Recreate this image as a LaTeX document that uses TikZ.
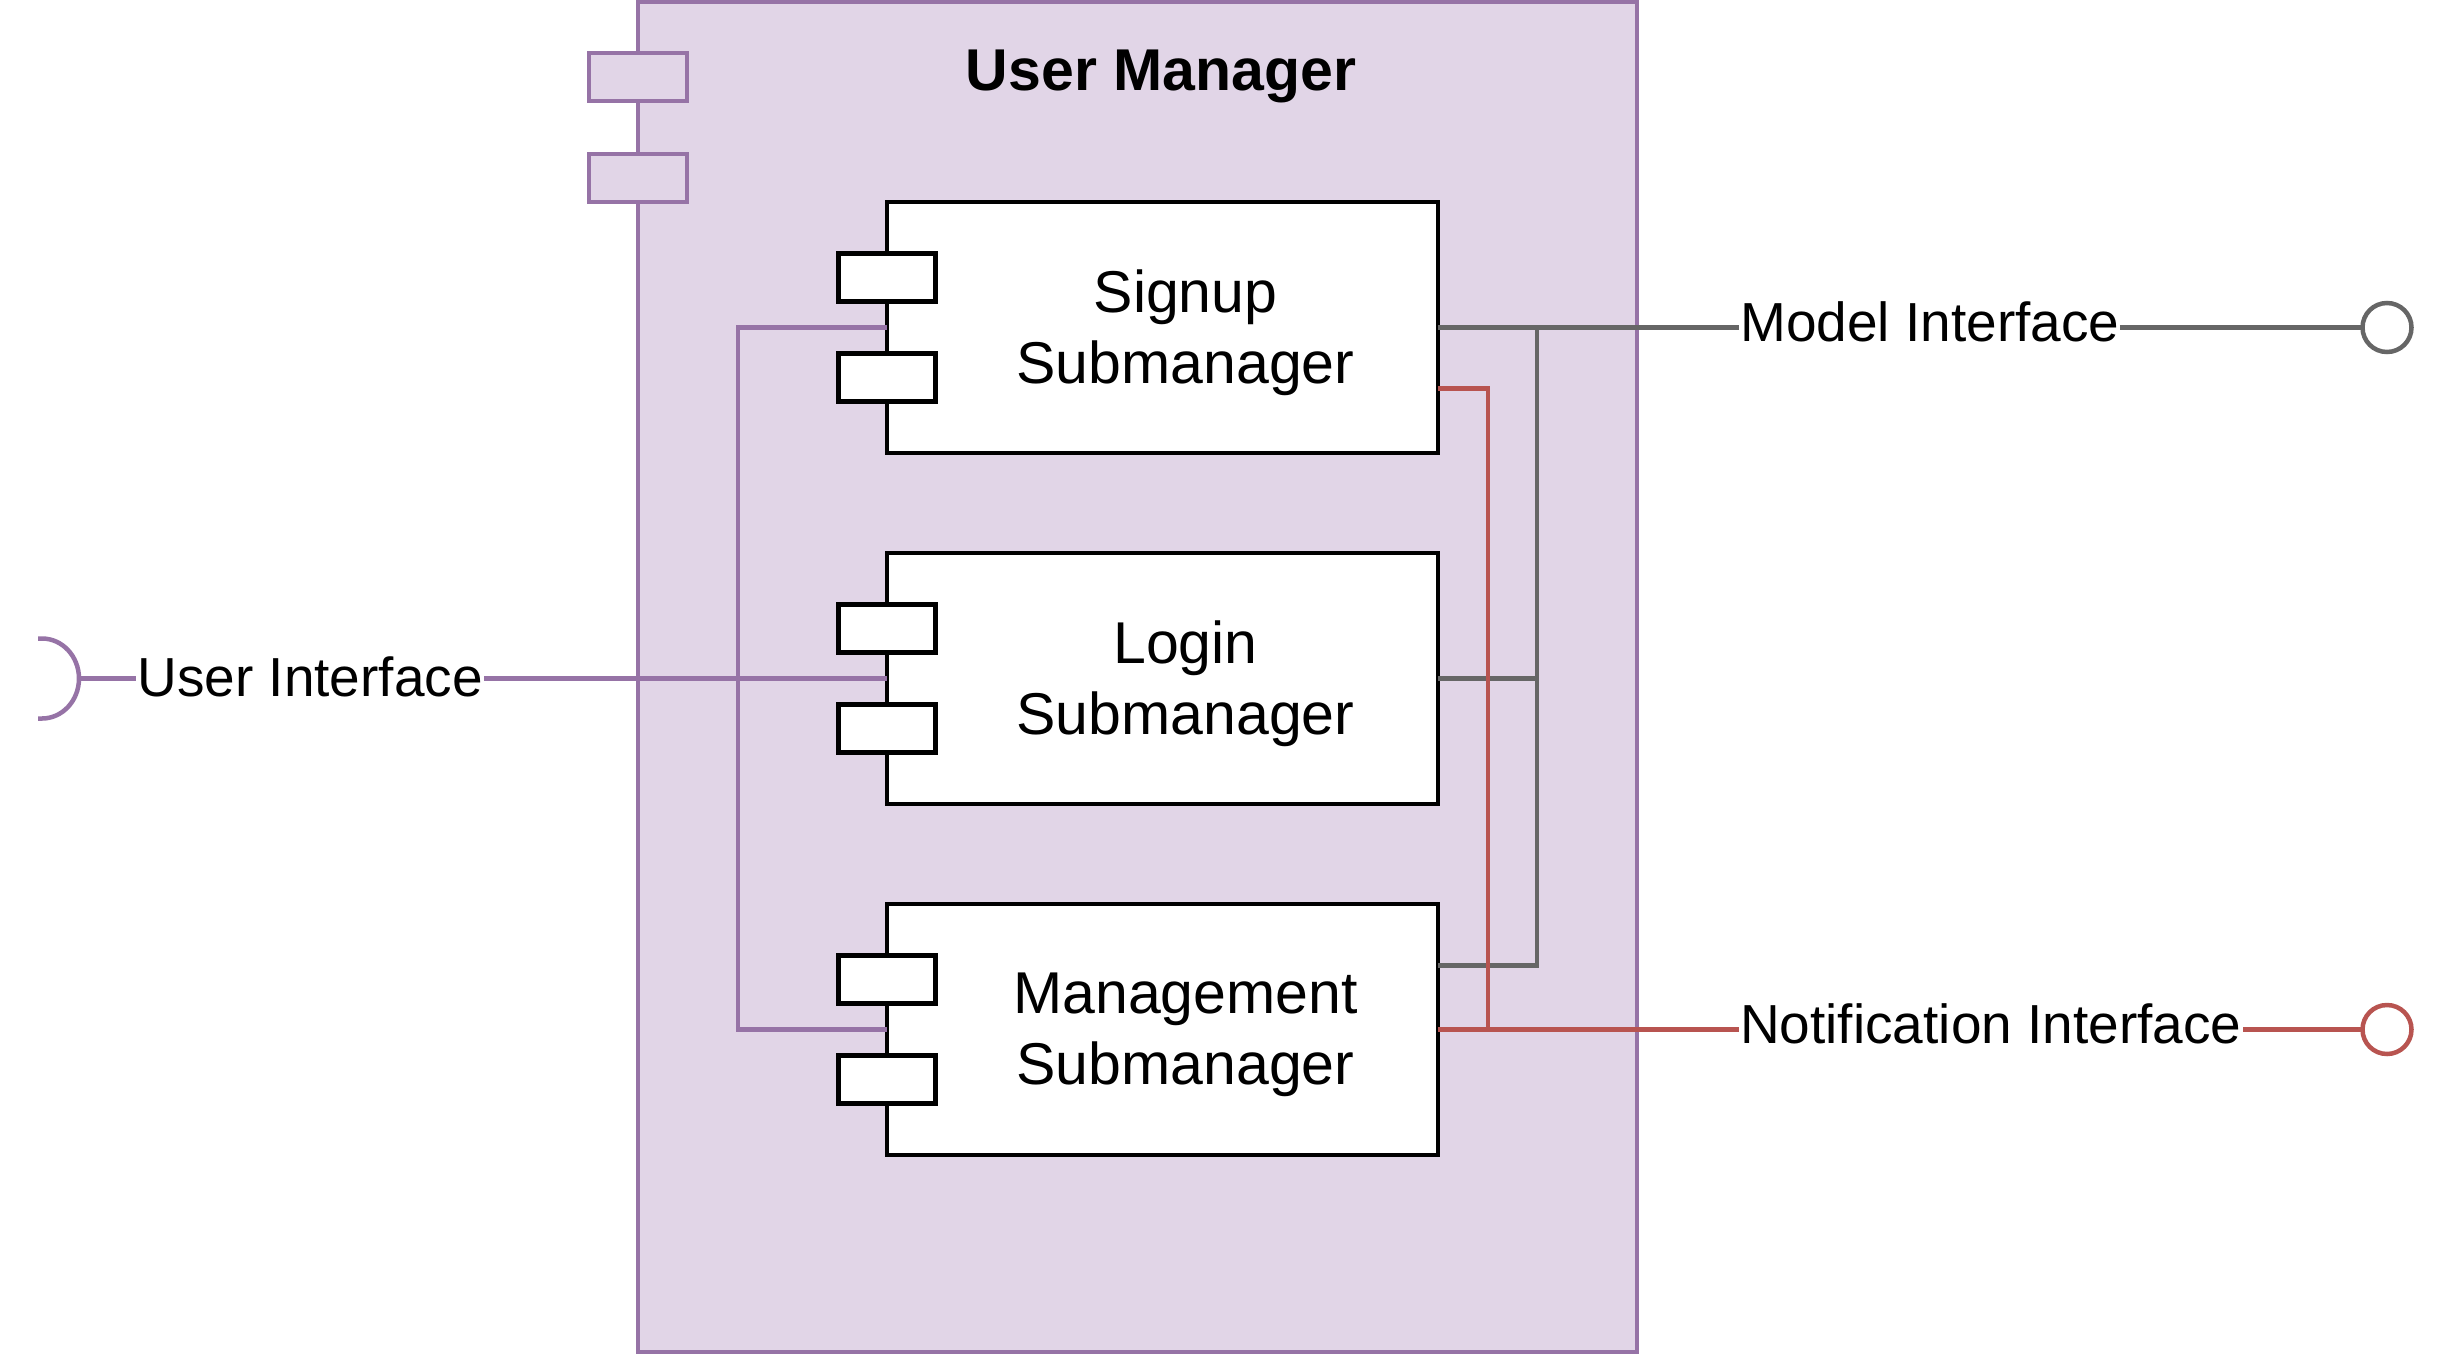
\documentclass[tikz,border=0pt]{standalone}
\usepackage{fontspec}
\setmainfont{Liberation Sans}
\usepackage{tikz}
\usetikzlibrary{
        shapes,
        positioning
    }
\definecolor{umpurple}{HTML}{9673A6}
\definecolor{umfill}{HTML}{E1D5E7}
\definecolor{wiregray}{HTML}{666666}
\definecolor{wirered}{HTML}{B85450}

\begin{document}
\begin{tikzpicture}
[x=1pt, y=-1pt,
container/.style={rectangle, draw=umpurple, fill=umfill, line width=4pt, outer sep=0pt, inner sep=0pt},
cport/.style={rectangle, draw=umpurple, fill=umfill, line width=4pt, minimum width=98pt, minimum height=48pt, outer sep=0pt},
subbox/.style={rectangle, draw=black, fill=white, line width=4.5pt, minimum width=551pt, minimum height=251pt, outer sep=0pt},
sport/.style={rectangle, draw=black, fill=white, line width=4.5pt, minimum width=97pt, minimum height=48pt, outer sep=0pt},
boxtext/.style={align=center, font=\fontsize{59}{71}\selectfont},
iflabel/.style={fill=white, inner sep=1pt, font=\fontsize{55}{66}\selectfont},
provided/.style={circle, fill=white, line width=4.5pt, minimum size=49pt, inner sep=0pt, outer sep=0pt},
purpleline/.style={draw=umpurple, line width=4.5pt},
grayline/.style={draw=wiregray, line width=4.5pt},
redline/.style={draw=wirered, line width=4.5pt},
node distance=100pt]

    \useasboundingbox (0,0) rectangle (2455,1355);

    \node (usermgr) [container, minimum width=999pt, minimum height=1350pt, anchor=north west] at (638,2) {};
    \node (uport1) [cport] at ([yshift=-75pt]usermgr.north west) {};
    \node (uport2) [cport] at ([yshift=-175.5pt]usermgr.north west) {};
    \node (title) [anchor=base, font=\bfseries\fontsize{59}{71}\selectfont] at (1161,90) {User Manager};

    \node (signup) [subbox] at (1162.5,327.5) {};
    \node (login) [subbox, below=of signup] {};
    \node (mgmt) [subbox, below=of login] {};

    \node (signupp1) [sport] at ([yshift=50pt]signup.west) {};
    \node (signupp2) [sport] at ([yshift=-50pt]signup.west) {};
    \node (loginp1) [sport] at ([yshift=50pt]login.west) {};
    \node (loginp2) [sport] at ([yshift=-50pt]login.west) {};
    \node (mgmtp1) [sport] at ([yshift=50pt]mgmt.west) {};
    \node (mgmtp2) [sport] at ([yshift=-50pt]mgmt.west) {};

    \node (signuptxt) [boxtext] at ([xshift=23pt, yshift=-5pt]signup.center) {Signup\\Submanager};
    \node (logintxt) [boxtext] at ([xshift=23pt, yshift=-5pt]login.center) {Login\\Submanager};
    \node (mgmttxt) [boxtext] at ([xshift=23pt, yshift=-5pt]mgmt.center) {Management\\Submanager};

    \coordinate (ifcol) at (2387,0);
    \coordinate (graybus) at (1537,0);
    \coordinate (redbus) at (1488,0);
    \coordinate (purplebus) at (738,0);
    \path (login.west) ++(-808,0) coordinate (uisocket);

    \node (modelif) [provided, draw=wiregray] at (ifcol |- signup.east) {};
    \node (notifif) [provided, draw=wirered] at (ifcol |- mgmt.east) {};

    % purple side
    \draw[purpleline] ([shift={(-41,40)}]uisocket) -- ++(4,0) arc[start angle=90, end angle=-90, x radius=37, y radius=40] -- ++(-4,0);
    \draw[purpleline] (uisocket) -- node[iflabel, pos=0.286, yshift=2pt]{User Interface} (login.west);
    \draw[purpleline] (signup.west) -| (purplebus |- mgmt.west) -- (mgmt.west);

    % gray side
    \draw[grayline] (login.east) -- (login.east -| graybus);
    \draw[grayline] ([yshift=64pt]mgmt.east) -| (graybus |- signup.east);
    \draw[grayline] (signup.east) -- node[iflabel, pos=0.532, yshift=6pt]{Model Interface} (modelif);

    % red side
    \draw[redline] ([yshift=-61pt]signup.east) -| (redbus |- mgmt.east);
    \draw[redline] (mgmt.east) -- node[iflabel, pos=0.598, yshift=6pt]{Notification Interface} (notifif);
\end{tikzpicture}
\end{document}
